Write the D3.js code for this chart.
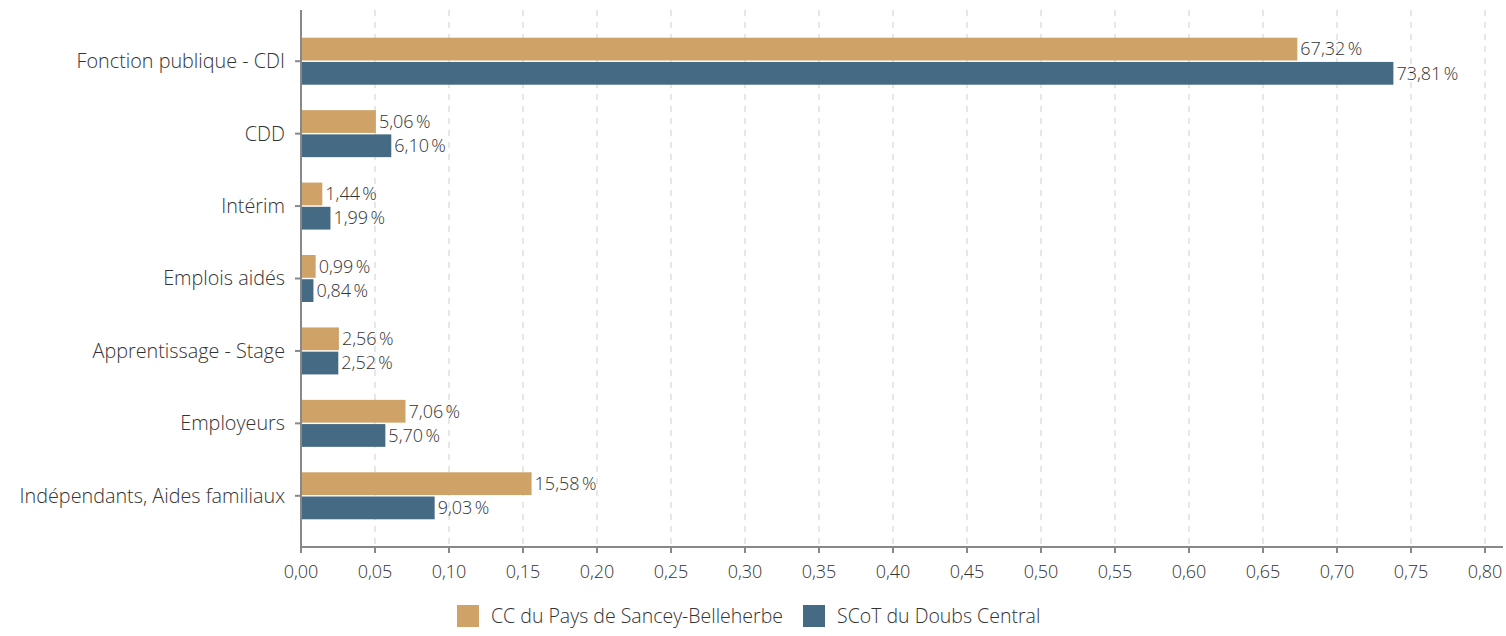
<!DOCTYPE html>
<html>
<head>
<meta charset="utf-8">
<script src="https://cdn.jsdelivr.net/npm/d3@7"></script>
<style>
  body { margin: 0; background: #fff; }
  svg text { font-family: "Open Sans", sans-serif; font-weight: 300; fill: #333; }
</style>
</head>
<body>
<svg width="1506" height="636"></svg>
<script>
const categories = ["Fonction publique - CDI", "CDD", "Intérim", "Emplois aidés",
    "Apprentissage - Stage", "Employeurs", "Indépendants, Aides familiaux"];
const seriesNames = ["CC du Pays de Sancey-Belleherbe", "SCoT du Doubs Central"];
const sanceyValues = [67.32, 5.06, 1.44, 0.99, 2.56, 7.06, 15.58];
const scotValues = [73.81, 6.10, 1.99, 0.84, 2.52, 5.70, 9.03];
const xTicks = d3.range(0, 17).map(i => i * 0.05);
const colors = ["#cfa267", "#456a84"];

const svg = d3.select("svg");
const fr = d3.formatLocale({ decimal: ",", thousands: " ", grouping: [3], currency: ["", " €"] });
const fmt2 = fr.format(".2f");

const x = d3.scaleLinear().domain([0, 0.8]).range([301, 1485]);
const y = d3.scaleBand().domain(categories).range([25, 532]);
const sub = d3.scaleBand().domain([0, 1]).range([0, 47]).paddingInner(0.06);

const plotTop = 10, plotBottom = 547;

// Grid
svg.append("g")
    .selectAll("line")
    .data(xTicks.slice(1))
    .enter()
    .append("line")
    .attr("x1", d => x(d)).attr("x2", d => x(d))
    .attr("y1", plotTop).attr("y2", plotBottom)
    .attr("stroke", "#cfcfcf")
    .attr("stroke-dasharray", "6,6");

// Bars
const series = [sanceyValues, scotValues];
series.forEach((vals, s) => {
    svg.append("g")
        .selectAll("rect")
        .data(vals)
        .enter()
        .append("rect")
        .attr("x", x(0))
        .attr("y", (d, i) => y(categories[i]) + (y.bandwidth() - 47) / 2 + sub(s))
        .attr("width", d => x(d / 100) - x(0))
        .attr("height", sub.bandwidth())
        .attr("fill", colors[s]);

    svg.append("g")
        .selectAll("text")
        .data(vals)
        .enter()
        .append("text")
        .attr("x", d => x(d / 100) + 3)
        .attr("y", (d, i) => y(categories[i]) + (y.bandwidth() - 47) / 2 + sub(s) + sub.bandwidth() / 2)
        .attr("dy", "0.35em")
        .style("font-size", "18px")
        .text(d => fmt2(d) + "\u202f%");
});

// X axis
const xAxis = svg.append("g")
    .attr("transform", `translate(0,${plotBottom})`);
xAxis.append("line")
    .attr("x1", 301).attr("x2", 1503)
    .attr("stroke", "#888").attr("stroke-width", 2);
xAxis.selectAll(".tick")
    .data(xTicks)
    .enter()
    .append("g")
    .attr("transform", d => `translate(${x(d)},0)`)
    .each(function (d) {
        const g = d3.select(this);
        g.append("line").attr("y1", 0).attr("y2", 6).attr("stroke", "#888").attr("stroke-width", 2);
        g.append("text").attr("y", 25).attr("dy", "0.35em")
            .attr("text-anchor", "middle")
            .style("font-size", "18px")
            .text(fmt2(d));
    });

// Y axis
svg.append("line")
    .attr("x1", 301).attr("x2", 301)
    .attr("y1", plotTop).attr("y2", plotBottom)
    .attr("stroke", "#888").attr("stroke-width", 2);
svg.append("g")
    .selectAll("g")
    .data(categories)
    .enter()
    .append("g")
    .attr("transform", d => `translate(301,${y(d) + y.bandwidth() / 2})`)
    .each(function (d) {
        const g = d3.select(this);
        g.append("line").attr("x1", -6).attr("x2", 0).attr("stroke", "#888").attr("stroke-width", 2);
        g.append("text").attr("x", -16).attr("dy", "0.35em")
            .attr("text-anchor", "end")
            .style("font-size", "19.8px")
            .text(d);
    });

// Legend
const legendX = [457, 803];
const legend = svg.append("g").attr("transform", "translate(0,605)");
seriesNames.forEach((name, i) => {
    legend.append("rect")
        .attr("x", legendX[i]).attr("y", 0)
        .attr("width", 22).attr("height", 22)
        .attr("fill", colors[i]);
    legend.append("text")
        .attr("x", legendX[i] + 34).attr("y", 11).attr("dy", "0.35em")
        .style("font-size", "19.5px")
        .text(name);
});
</script>
</body>
</html>
